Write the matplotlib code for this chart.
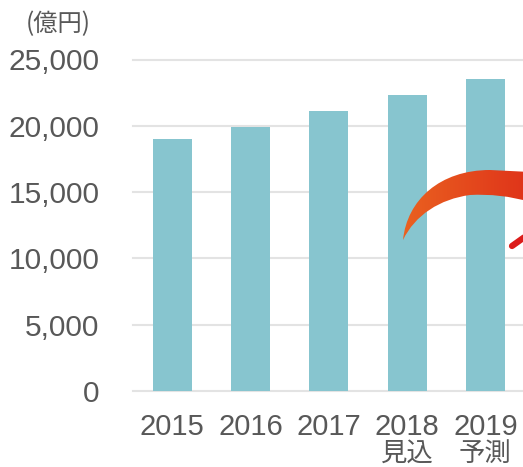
import matplotlib
matplotlib.use("Agg")
import matplotlib.pyplot as plt
import numpy as np
from matplotlib.path import Path
from matplotlib.patches import PathPatch

# Market size (100 million yen)
years = ["2015", "2016", "2017", "2018", "2019"]
sublabels = ["", "", "", "見込", "予測"]
values = [19000, 19900, 21100, 22300, 23500]
yticks = [0, 5000, 10000, 15000, 20000, 25000]
unit_label = "(億円)"

W, H = 523, 467
fig = plt.figure(figsize=(W / 100, H / 100), dpi=100)
fig.patch.set_facecolor("white")

ax = fig.add_axes([133 / W, 76 / H, (W - 133) / W, 331.5 / H])
x = np.arange(len(years))
ax.bar(x, values, width=0.5, color="#87c5cf", zorder=2)
ax.set_xlim(-0.5, 4.48)
ax.set_ylim(0, 25000)

for yv in yticks:
    ax.axhline(yv, color="#e3e3e3", lw=1.5, zorder=1, clip_on=False)

for s in ax.spines.values():
    s.set_visible(False)

text_color = "#585858"
ax.set_yticks(yticks)
ax.set_yticklabels([f"{v:,}" for v in yticks], fontsize=21.5,
                   family="Liberation Sans", color=text_color)
ax.set_xticks(x)
ax.set_xticklabels(years, fontsize=21, family="Liberation Sans", color=text_color)
ax.tick_params(axis="y", length=0, pad=24)
ax.tick_params(axis="x", length=0, pad=16)

trans = matplotlib.transforms.blended_transform_factory(ax.transData, fig.transFigure)
for xi, sub in zip(x, sublabels):
    if sub:
        ax.text(xi, (H - 453) / H, sub, transform=trans, ha="center", va="center",
                fontsize=19, family="Noto Sans CJK JP", color=text_color)

fig.text(58 / W, (H - 24) / H, unit_label, ha="center", va="center",
         fontsize=17.5, family=["Noto Sans CJK JP", "DejaVu Sans"], color=text_color)

# Decorative growth arrow drawn in pixel space
ov = fig.add_axes([0, 0, 1, 1], facecolor="none")
ov.set_xlim(0, W)
ov.set_ylim(H, 0)
ov.axis("off")

verts = [(403, 240), (407, 200), (440, 170), (490, 170), (530, 172), (530, 202),
         (510, 196), (490, 194), (470, 195), (440, 199), (415, 215), (403, 240), (403, 240)]
codes = [Path.MOVETO, Path.CURVE4, Path.CURVE4, Path.CURVE4, Path.LINETO, Path.LINETO,
         Path.CURVE4, Path.CURVE4, Path.CURVE4, Path.CURVE4, Path.CURVE4, Path.CURVE4,
         Path.CLOSEPOLY]
patch = PathPatch(Path(verts, codes), facecolor="none", edgecolor="none")
ov.add_patch(patch)

c0 = np.array([0xea, 0x62, 0x20]) / 255
c1 = np.array([0xdf, 0x33, 0x1a]) / 255
t = np.linspace(0, 1, 256)[None, :, None]
grad = c0 * (1 - t) + c1 * t
img = ov.imshow(grad, extent=[400, 530, 245, 165], aspect="auto", zorder=3)
img.set_clip_path(patch)
ov.set_xlim(0, W)
ov.set_ylim(H, 0)

ov.plot([512, 526], [246, 236], color="#dc1c1a", lw=4.5, solid_capstyle="round", zorder=4)

fig.savefig("out.png", dpi=100)
